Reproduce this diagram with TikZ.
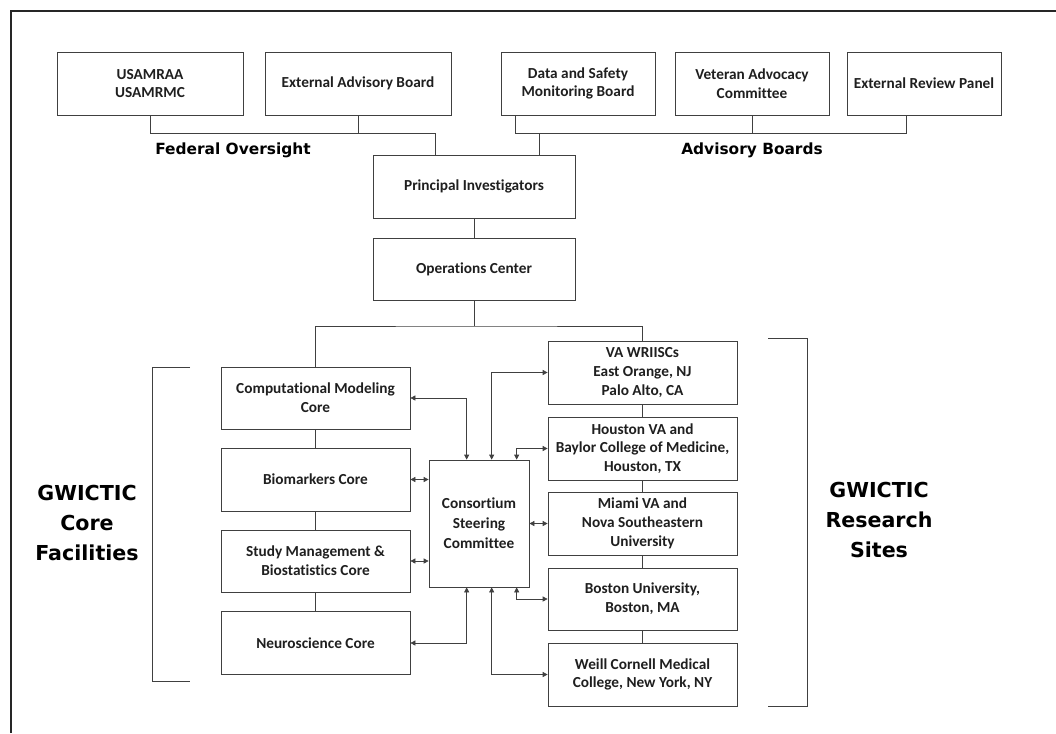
\documentclass[tikz,border=0pt]{standalone}
\usepackage{fontspec}
\setmainfont{Carlito}[Ligatures={NoCommon,NoRare,NoDiscretionary},Contextuals=NoAlternate]
\newfontfamily\heavyfont{DejaVu Sans}
\usetikzlibrary{arrows.meta}
\begin{document}
\begin{tikzpicture}[x=1pt,y=-1pt,
  box/.style={draw=black!75,line width=0.7pt,rectangle,inner sep=0pt,align=center,
    text=black!88,font=\bfseries\fontsize{15.3}{18.8}\selectfont},
  conn/.style={draw=black!75,line width=0.7pt},
  biarrow/.style={conn,{Triangle[length=5pt,width=5pt]}-{Triangle[length=5pt,width=5pt]}},
  heavy/.style={align=center,text=black,font=\heavyfont\bfseries\fontsize{15.4}{18}\selectfont},
  big/.style={align=center,text=black,font=\heavyfont\bfseries\fontsize{20.6}{30}\selectfont}]
\useasboundingbox (0,0) rectangle (1056,733);
\fill[white] (0,0) rectangle (1056,733);
\draw[line width=2pt,black!85] (11,733) -- (11,11) -- (1056,11);

% top boxes
\node[box,minimum width=186pt,minimum height=63pt] (usam) at (150,83.5) {USAMRAA\\USAMRMC};
\node[box,minimum width=186pt,minimum height=63pt] (eab) at (358,83.5) {External Advisory Board};
\node[box,minimum width=154pt,minimum height=63pt] (dsmb) at (578,83.5) {Data and Safety\\Monitoring Board};
\node[box,minimum width=154pt,minimum height=63pt] (vac) at (752,83.5) {Veteran Advocacy\\Committee};
\node[box,minimum width=154pt,minimum height=63pt] (erp) at (924,83.5) {External Review Panel};

\node[box,minimum width=202pt,minimum height=63pt] (pi) at (474,186.5) {Principal Investigators};
\node[box,minimum width=202pt,minimum height=62pt] (ops) at (474,269) {Operations Center};

% cores
\node[box,minimum width=189pt,minimum height=62pt] (cmc) at (315.5,398) {Computational Modeling\\Core};
\node[box,minimum width=189pt,minimum height=63pt] (bio) at (315.5,479.5) {Biomarkers Core};
\node[box,minimum width=189pt,minimum height=62pt] (smb) at (315.5,561) {Study Management \&\\Biostatistics Core};
\node[box,minimum width=189pt,minimum height=63pt] (neu) at (315.5,643) {Neuroscience Core};

\node[box,minimum width=100pt,minimum height=127pt,font=\bfseries\fontsize{15.3}{20}\selectfont] (csc) at (479,523.5) {Consortium\\Steering\\Committee};

% sites
\node[box,minimum width=189pt,minimum height=63pt] (va) at (642.5,372.5) {VA WRIISCs\\East Orange, NJ\\Palo Alto, CA};
\node[box,minimum width=189pt,minimum height=63pt] (hou) at (642.5,448.5) {Houston VA and\\Baylor College of Medicine,\\Houston, TX};
\node[box,minimum width=189pt,minimum height=63pt] (mia) at (642.5,523.5) {Miami VA and\\Nova Southeastern\\University};
\node[box,minimum width=189pt,minimum height=62pt] (bos) at (642.5,599) {Boston University,\\Boston, MA};
\node[box,minimum width=189pt,minimum height=63pt] (wei) at (642.5,674.5) {Weill Cornell Medical\\College, New York, NY};

% labels
\node[heavy] (fed) at (233,150) {Federal Oversight};
\node[heavy] (adv) at (752,150) {Advisory Boards};
\node[big] (corelab) at (87,523) {GWICTIC\\Core\\Facilities};
\node[big] (reslab) at (879,520) {GWICTIC\\Research\\Sites};

% connectors top
\coordinate (fedR) at (435,133);
\draw[conn] (usam.south) |- (fedR) -- (fedR |- pi.north);
\draw[conn] (eab.south) -- (eab.south |- fedR);
\coordinate (advL) at (515,133);
\coordinate (advR) at (906,133);
\coordinate (advJ) at (539,133);
\draw[conn] (advL |- dsmb.south) -- (advL) -- (advR) -- (advR |- erp.south);
\draw[conn] (vac.south) -- (vac.south |- advL);
\draw[conn] (advJ) -- (advJ |- pi.north);
\draw[conn] (pi.south) -- (ops.north);
\coordinate (split) at (474,326);
\draw[conn] (ops.south) -- (split);
\draw[conn] (cmc.north) |- (split) -| (va.north);

% vertical chains
\draw[conn] (cmc) -- (bio);
\draw[conn] (bio) -- (smb);
\draw[conn] (smb) -- (neu);
\draw[conn] (va) -- (hou);
\draw[conn] (hou) -- (mia);
\draw[conn] (mia) -- (bos);
\draw[conn] (bos) -- (wei);

% arrows to steering committee
\draw[biarrow] (cmc.east) -| ([xshift=38pt]csc.north west);
\draw[biarrow] ([xshift=63pt]csc.north west) |- (va.west);
\draw[biarrow] ([xshift=88pt]csc.north west) |- (hou.west);
\draw[biarrow] (bio.east) -- (bio.east -| csc.west);
\draw[biarrow] (csc.east) -- (mia.west);
\draw[biarrow] (smb.east) -- (smb.east -| csc.west);
\draw[biarrow] ([xshift=88pt]csc.south west) |- (bos.west);
\draw[biarrow] ([xshift=38pt]csc.south west) |- (neu.east);
\draw[biarrow] ([xshift=63pt]csc.south west) |- (wei.west);

% brackets
\draw[conn] (190,367) -- (152,367) -- (152,681) -- (190,681);
\draw[conn] (768,338) -- (807,338) -- (807,706) -- (768,706);
\end{tikzpicture}
\end{document}
